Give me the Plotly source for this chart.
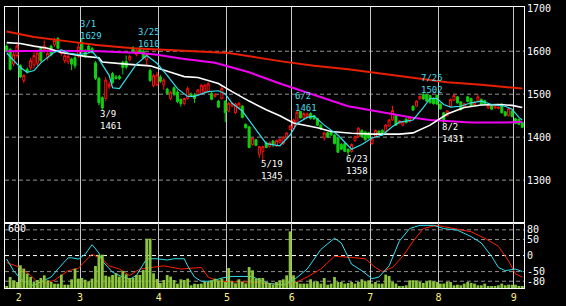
import plotly.graph_objects as go

# ---------------- data ----------------
opens = [1612,1604,1570,1590,1567,1532,1558,1562,1568,1572,
         1607,1603,1585,1612,1615,1630,1595,1578,1575,1582,
         1585,1588,1620,1600,1612,1606,1573,1537,1492,1490,
         1517,1548,1540,1541,1575,1576,1580,1608,1592,1605,
         1600,1580,1555,1520,1522,1540,1522,1512,1490,1515,
         1505,1488,1478,1490,1500,1498,1499,1502,1506,1506,
         1502,1495,1484,1490,1484,1461,1472,1457,1468,1472,
         1430,1424,1383,1394,1360,1367,1387,1378,1391,1380,
         1388,1385,1400,1418,1420,1430,1460,1445,1447,1455,
         1450,1443,1428,1398,1410,1414,1405,1398,1383,1385,
         1372,1367,1392,1401,1416,1412,1410,1385,1401,1414,
         1416,1412,1426,1440,1450,1432,1428,1442,1436,1472,
         1472,1489,1500,1498,1497,1490,1497,1477,1457,1450,
         1472,1486,1494,1482,1470,1494,1490,1476,1485,1488,
         1485,1468,1473,1468,1467,1477,1459,1450,1461,1443,
         1441,1434]
highs = [1616,1608,1600,1622,1570,1546,1562,1585,1598,1600,
         1610,1625,1605,1615,1632,1633,1604,1595,1592,1585,
         1590,1620,1629,1605,1618,1610,1577,1540,1495,1540,
         1530,1552,1545,1545,1578,1590,1592,1612,1608,1610,
         1606,1597,1560,1548,1552,1545,1538,1515,1508,1518,
         1510,1490,1492,1518,1504,1502,1512,1524,1524,1528,
         1505,1502,1487,1520,1486,1482,1482,1480,1482,1475,
         1432,1426,1400,1396,1380,1380,1390,1390,1394,1394,
         1398,1402,1412,1428,1443,1461,1461,1458,1457,1458,
         1452,1445,1430,1412,1413,1416,1407,1400,1386,1387,
         1374,1385,1403,1423,1418,1414,1412,1398,1418,1416,
         1418,1430,1442,1473,1452,1440,1438,1445,1448,1474,
         1486,1497,1502,1500,1499,1493,1500,1479,1459,1463,
         1490,1500,1496,1484,1480,1496,1492,1484,1500,1490,
         1487,1477,1475,1474,1472,1479,1461,1468,1463,1445,
         1443,1436]
lows = [1598,1555,1565,1585,1538,1526,1548,1556,1560,1566,
        1574,1596,1578,1588,1610,1604,1590,1572,1570,1556,
        1560,1584,1596,1584,1596,1594,1533,1474,1461,1484,
        1512,1524,1534,1533,1546,1558,1576,1597,1588,1594,
        1582,1566,1528,1516,1519,1526,1510,1499,1486,1496,
        1479,1471,1474,1487,1494,1480,1496,1500,1503,1504,
        1486,1492,1468,1488,1435,1458,1470,1454,1465,1444,
        1420,1374,1380,1379,1352,1345,1374,1376,1377,1377,
        1385,1382,1398,1416,1418,1428,1443,1442,1444,1441,
        1440,1426,1417,1392,1398,1403,1383,1363,1370,1365,
        1358,1364,1389,1399,1399,1392,1396,1382,1398,1405,
        1403,1410,1424,1438,1426,1430,1425,1432,1434,1461,
        1470,1487,1487,1482,1478,1476,1475,1464,1431,1448,
        1470,1484,1478,1462,1468,1481,1470,1474,1483,1475,
        1476,1466,1463,1466,1465,1455,1448,1448,1446,1430,
        1428,1421]
closes = [1602,1558,1592,1612,1540,1544,1552,1578,1590,1596,
          1578,1612,1595,1592,1625,1607,1600,1590,1588,1570,
          1566,1610,1600,1588,1600,1598,1537,1480,1468,1533,
          1523,1527,1537,1536,1562,1563,1588,1600,1602,1598,
          1585,1592,1532,1543,1545,1530,1533,1502,1505,1500,
          1483,1478,1490,1513,1496,1490,1510,1521,1521,1524,
          1488,1500,1470,1513,1457,1479,1479,1477,1479,1446,
          1422,1376,1398,1381,1378,1378,1376,1387,1383,1392,
          1395,1400,1410,1426,1440,1458,1445,1455,1454,1444,
          1443,1428,1419,1410,1400,1405,1385,1365,1372,1367,
          1365,1383,1401,1421,1401,1394,1398,1396,1416,1407,
          1405,1428,1440,1462,1428,1438,1436,1434,1446,1463,
          1484,1495,1489,1484,1480,1478,1477,1466,1439,1461,
          1488,1497,1480,1464,1478,1483,1472,1482,1494,1477,
          1478,1475,1465,1472,1470,1457,1450,1466,1448,1432,
          1430,1423]
volume = [20,110,77,60,227,194,144,110,60,80,
          100,127,77,60,43,43,134,33,33,87,
          194,94,100,83,67,94,220,334,334,124,
          114,130,147,114,170,137,100,100,130,130,
          180,494,494,147,90,50,80,130,114,80,
          43,87,80,94,27,43,40,44,60,60,
          77,94,77,94,60,200,63,47,87,63,
          47,210,177,94,100,100,60,47,33,60,
          77,87,127,567,127,60,44,44,44,87,
          60,67,44,100,33,44,110,60,60,44,
          50,60,44,60,87,67,77,44,60,44,
          44,134,120,60,44,20,20,27,77,77,
          77,60,50,67,77,67,60,44,44,60,
          60,27,33,27,44,60,50,44,27,27,
          44,20,20,20,27,44,27,33,33,33,
          20,20]

# moving-average lines at sample days
cyan_days = [0,2,4,6,8,10,12,14,16,18,21,24,25,27,30,31,33,35,38,41,44,47,50,53,55,59,62,64,66,69,
             73,76,80,83,85,88,90,93,97,100,101,104,107,110,113,115,119,122,124,126,128,130,133,136,
             139,142,146,148,150,151]
cyan_vals = [1596,1578,1562,1551,1555,1573,1585,1598,1603,1596,1592,1596,1600,1581,1544,1515,1513,1536,
             1570,1590,1572,1544,1513,1495,1495,1506,1508,1501,1479,1461,1416,1385,1380,1405,1432,1446,
             1449,1428,1405,1379,1372,1383,1398,1405,1425,1435,1440,1469,1490,1490,1476,1470,1472,1480,
             1484,1476,1472,1465,1446,1440]
white_days = [0,4,8,12,16,20,23,27,28,35,40,42,48,52,56,62,66,71,76,80,84,87,91,95,101,107,115,119,124,
              129,134,139,144,148,151]
white_vals = [1620,1618,1612,1607,1597,1592,1588,1585,1575,1570,1566,1566,1551,1541,1539,1525,1506,1484,
              1464,1450,1433,1428,1422,1413,1409,1407,1407,1410,1428,1454,1469,1475,1476,1474,1469]
magenta_days = [0,13,27,39,44,51,61,71,80,90,100,110,119,124,136,146,151]
magenta_vals = [1600,1601,1600,1596,1592,1583,1573,1551,1525,1499,1472,1458,1445,1440,1434,1434,1436]
red_days = [0,8,18,27,37,51,65,80,90,100,110,129,139,151]
red_vals = [1646,1633,1623,1614,1607,1602,1596,1577,1566,1558,1548,1528,1522,1513]

# oscillators in lower panel
osc_c_days = [0,2,4,7,8,11,13,15,18,19,21,23,25,27,28,31,34,36,38,41,44,47,49,52,53,55,57,60,63,66,72,
              74,77,81,84,88,92,96,98,101,104,107,109,112,114,115,118,121,125,128,132,136,139,142,144,
              146,149,151]
osc_c_vals = [-11,-47,-72,-92,-92,-77,-67,-42,-7,-7,-11,4,34,8,-17,-52,-67,-74,-62,-10,-10,-14,-10,-10,
              -32,-67,-80,-80,-70,-65,-65,-77,-87,-92,-77,-42,19,54,39,-27,-47,-72,-67,-32,20,45,84,94,
              94,84,79,59,39,-2,-37,-47,-42,-50]
osc_r_days = [0,4,7,9,11,14,18,21,23,25,28,30,33,36,39,42,46,51,57,59,62,66,71,76,81,84,88,92,96,102,
              105,108,110,113,116,119,122,126,131,136,140,144,147,149,151]
osc_r_vals = [-22,-37,-62,-82,-87,-77,-47,-40,-17,4,-11,-32,-42,-62,-42,-37,-32,-42,-37,-67,-80,-82,-82,
              -87,-90,-87,-67,-42,-2,-7,-10,-37,-50,-37,-2,44,84,94,84,74,54,29,-17,-57,-67]

month_starts = [4, 22, 45, 65, 84, 107, 127, 149]
month_labels = ['2', '3', '4', '5', '6', '7', '8', '9']
price_ticks = [1300, 1400, 1500, 1600, 1700]
osc_ticks = [80, 50, 0, -50, -80]
osc_tick_text = ['80', '50', '0', '-50', '-80']
vol_ticks = [600]

mark_dates = ['3/1', '3/9', '3/25', '5/19', '6/2', '6/23', '7/25', '8/2']
mark_days = [22, 28, 39, 75, 85, 100, 122, 128]
mark_vals = [1629, 1461, 1610, 1345, 1461, 1358, 1502, 1431]
mark_kind = ['H', 'L', 'H', 'L', 'H', 'L', 'H', 'L']

# ---------------- figure ----------------
days = list(range(len(closes)))
FONT = 'DejaVu Sans Mono'
fig = go.Figure()

fig.add_trace(go.Bar(x=days, y=volume, xaxis='x2', yaxis='y3',
                     marker=dict(color='#8CC43C', line=dict(width=0)), showlegend=False))
fig.add_trace(go.Scatter(x=osc_r_days, y=osc_r_vals, xaxis='x2', yaxis='y2', mode='lines',
                         line=dict(color='#FF2000', width=1), showlegend=False))
fig.add_trace(go.Scatter(x=osc_c_days, y=osc_c_vals, xaxis='x2', yaxis='y2', mode='lines',
                         line=dict(color='#30E0F0', width=1), showlegend=False))

fig.add_trace(go.Scatter(x=red_days, y=red_vals, mode='lines',
                         line=dict(color='#E82000', width=2), showlegend=False))
fig.add_trace(go.Scatter(x=magenta_days, y=magenta_vals, mode='lines',
                         line=dict(color='#F000F0', width=2), showlegend=False))
fig.add_trace(go.Scatter(x=white_days, y=white_vals, mode='lines',
                         line=dict(color='#FFFFFF', width=1.6), showlegend=False))
fig.add_trace(go.Candlestick(x=days, open=opens, high=highs, low=lows, close=closes,
                             increasing=dict(line=dict(color='#FF1010', width=1), fillcolor='#000000'),
                             decreasing=dict(line=dict(color='#10D010', width=1), fillcolor='#10D010'),
                             whiskerwidth=0, showlegend=False))
fig.add_trace(go.Scatter(x=cyan_days, y=cyan_vals, mode='lines',
                         line=dict(color='#30E0F0', width=1.2), showlegend=False))

tickvals_x = [s - 0.5 for s in month_starts]
xr = [-0.5, len(closes) - 0.5]
common_x = dict(range=xr, tickvals=tickvals_x, showgrid=True, gridcolor='#C8C8C8', gridwidth=1,
                showline=True, linecolor='#FFFFFF', linewidth=1, mirror=True, zeroline=False)

shapes = []
for p in price_ticks[:-1]:
    shapes.append(dict(type='line', xref='paper', yref='y', x0=0, x1=1, y0=p, y1=p,
                       line=dict(color='#909090', width=1, dash='4px,3px'), layer='below'))
for v in osc_ticks:
    col = '#FFFFFF' if v == 0 else '#909090'
    shapes.append(dict(type='line', xref='paper', yref='y2', x0=0, x1=1, y0=v, y1=v,
                       line=dict(color=col, width=1, dash='4px,3px'), layer='below'))

annotations = []
for d, i, v, k in zip(mark_dates, mark_days, mark_vals, mark_kind):
    col = '#40DCEC' if k == 'H' else '#FFFFFF'
    ys = 9 if k == 'H' else -9.5
    annotations.append(dict(x=i, y=v, xref='x', yref='y', text=f'{d}<br>{v}', showarrow=False,
                            xanchor='left', yanchor='middle', align='left', xshift=-3, yshift=ys,
                            borderpad=0,
                            font=dict(family=FONT, size=9, color=col)))

fig.update_layout(
    width=566, height=306,
    margin=dict(l=5, r=42, t=3, b=13),
    paper_bgcolor='#000000', plot_bgcolor='#000000',
    font=dict(family=FONT, size=10, color='#FFFFFF'),
    showlegend=False, bargap=0.18, boxgap=0.15,
    xaxis=dict(common_x, anchor='y', showticklabels=False, rangeslider=dict(visible=False)),
    xaxis2=dict(common_x, anchor='y2', ticktext=month_labels, ticks='',
                tickfont=dict(family=FONT, size=10, color='#FFF080')),
    yaxis=dict(domain=[0.231, 1], range=[1200, 1703], side='right', tickvals=price_ticks,
               showgrid=False, zeroline=False, showline=True, linecolor='#FFFFFF', linewidth=1,
               mirror=True, ticks='', ticklabeloverflow='allow',
               tickfont=dict(family=FONT, size=10, color='#FFFFFF')),
    yaxis2=dict(domain=[0, 0.231], range=[-101, 101], side='right', tickvals=osc_ticks,
                ticktext=osc_tick_text, showgrid=False, zeroline=False, showline=True,
                linecolor='#FFFFFF', linewidth=1, mirror=True, ticks='',
                tickfont=dict(family=FONT, size=10, color='#FFFFFF')),
    yaxis3=dict(overlaying='y2', range=[0, 650], side='left', tickvals=vol_ticks,
                ticklabelposition='inside', ticklabeloverflow='allow', showgrid=False,
                zeroline=False, showline=False, ticks='',
                tickfont=dict(family=FONT, size=10, color='#FFFFFF')),
    shapes=shapes, annotations=annotations,
)

fig.write_html('out.html')
